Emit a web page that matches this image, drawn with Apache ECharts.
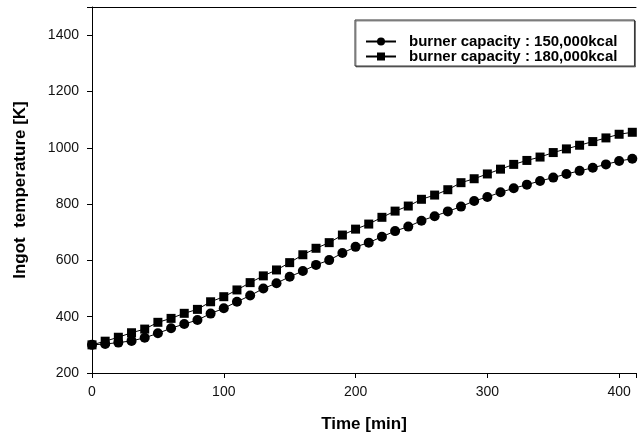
<!DOCTYPE html>
<html>
<head>
<meta charset="utf-8">
<script src="https://cdn.jsdelivr.net/npm/echarts@6/dist/echarts.min.js"></script>
<style>html,body{margin:0;padding:0;background:#fff}#c{width:639px;height:439px}</style>
</head>
<body>
<div id="c"></div>
<script>
var times = [0,10,20,30,40,50,60,70,80,90,100,110,120,130,140,150,160,170,180,190,200,210,220,230,240,250,260,270,280,290,300,310,320,330,340,350,360,370,380,390,400,410];
var temp150 = [300,303,308,314,325,341,359,374,388,411,430,453,475,500,519,542,562,584,601,626,648,663,684,704,720,741,757,774,791,811,825,842,856,869,882,894,907,918,929,941,953,961];
var temp180 = [300,313,327,343,356,380,394,412,426,453,471,495,521,545,566,592,620,643,663,690,711,729,753,775,793,817,832,851,876,890,907,924,941,955,967,983,996,1009,1022,1035,1048,1055];
var seriesNames = ['burner capacity : 150,000kcal', 'burner capacity : 180,000kcal'];
var xTicks = [0,100,200,300,400];
var yTicks = [200,400,600,800,1000,1200,1400];

function pairs(xs, ys){ return xs.map(function(x,i){ return [x, ys[i]]; }); }

var chart = echarts.init(document.getElementById('c'), null, {renderer:'canvas'});
var font = 'Arial, "Liberation Sans", Helvetica, sans-serif';
chart.setOption({
  animation: false,
  backgroundColor: '#fff',
  grid: { left: 92, top: 7, width: 547, height: 366 },
  legend: {
    orient: 'vertical',
    left: 355, top: 20,
    padding: [14, 17, 2, 10],
    itemGap: 0,
    itemWidth: 30, itemHeight: 10,
    borderColor: '#333', borderWidth: 1,
    backgroundColor: '#fff',
    shadowColor: 'rgba(0,0,0,0.45)', shadowOffsetX: 1, shadowOffsetY: 1,
    textStyle: { fontFamily: font, fontWeight: 'bold', fontSize: 15, lineHeight: 14, color: '#000', padding: [0,0,0,8] },
    data: seriesNames
  },
  xAxis: [{
    type: 'value', min: 0, max: 412.8, interval: 100,
    name: 'Time [min]', nameLocation: 'middle', nameGap: 43,
    nameTextStyle: { fontFamily: font, fontWeight: 'bold', fontSize: 17, color: '#000' },
    axisLine: { show: true, lineStyle: { color: '#000', width: 1 } },
    axisTick: { show: true, inside: false, length: 5, lineStyle: { color: '#000' } },
    axisLabel: { fontFamily: font, fontSize: 14, color: '#111', margin: 12,
      formatter: function(v){ return xTicks.indexOf(v) >= 0 ? String(v) : ''; } },
    splitLine: { show: false }
  }, {
    type: 'value', position: 'top', min: 0, max: 412.8,
    axisLine: { show: true, onZero: false, lineStyle: { color: '#000', width: 1 } },
    axisTick: { show: false }, axisLabel: { show: false }, splitLine: { show: false }
  }],
  yAxis: {
    type: 'value', min: 200, max: 1500, interval: 200,
    name: 'Ingot  temperature [K]', nameLocation: 'middle', nameGap: 63, nameRotate: 90,
    nameTextStyle: { fontFamily: font, fontWeight: 'bold', fontSize: 17, color: '#000' },
    axisLine: { show: true, lineStyle: { color: '#000', width: 1 } },
    axisTick: { show: true, inside: false, length: 5, lineStyle: { color: '#000' } },
    axisLabel: { fontFamily: font, fontSize: 14, color: '#111', margin: 13,
      formatter: function(v){ return yTicks.indexOf(v) >= 0 ? String(v) : ''; } },
    splitLine: { show: false }
  },
  series: [{
    name: seriesNames[0], type: 'line', data: pairs(times, temp150),
    symbol: 'circle', symbolSize: 10, showAllSymbol: true,
    lineStyle: { color: '#000', width: 1 }, itemStyle: { color: '#000' }
  }, {
    name: seriesNames[1], type: 'line', data: pairs(times, temp180),
    symbol: 'rect', symbolSize: 9, showAllSymbol: true,
    lineStyle: { color: '#000', width: 1 }, itemStyle: { color: '#000' }
  }]
});
</script>
</body>
</html>
